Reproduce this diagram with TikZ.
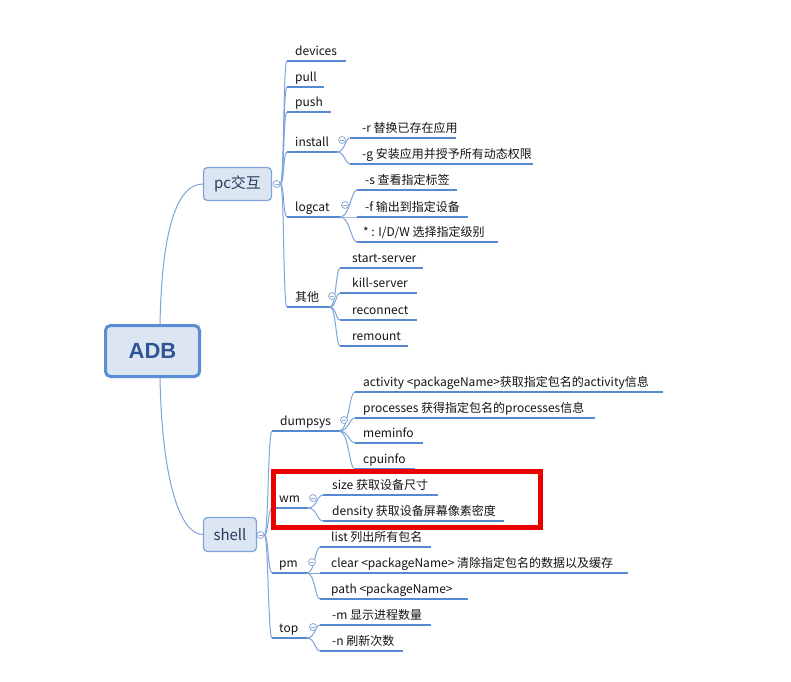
\documentclass[tikz,border=0pt]{standalone}
\usepackage{fontspec}
\setmainfont{Noto Sans CJK SC}
\newfontfamily\adbfont{Liberation Sans}
\usetikzlibrary{calc}
\definecolor{boxfill}{RGB}{220,230,242}
\definecolor{boxline}{RGB}{91,141,212}
\definecolor{ulc}{RGB}{86,137,210}
\definecolor{trunkc}{RGB}{125,165,220}
\definecolor{circc}{RGB}{140,170,210}
\definecolor{txtc}{RGB}{20,20,20}
\definecolor{toptxt}{RGB}{38,58,90}
\definecolor{adbtxt}{RGB}{47,85,151}
\definecolor{hlc}{RGB}{235,0,0}
\tikzset{
  leaftext/.style={anchor=base west, inner sep=0, text=txtc, font=\fontsize{12}{14}\selectfont},
  uline/.style={draw=ulc, line width=1.8},
  trunkline/.style={draw=trunkc, line width=1},
  toggle/.style={circle, draw=circc, fill=white, line width=0.8, minimum size=7, inner sep=0,
    path picture={\draw[circc, line width=0.8] ([xshift=-2]path picture bounding box.center) -- ([xshift=2]path picture bounding box.center);}},
  adbbox/.style={draw=boxline, line width=3, fill=boxfill, rounded corners=5, minimum width=94, minimum height=51, inner sep=0,
    text=adbtxt, font=\adbfont\bfseries\fontsize{22}{24}\selectfont},
  topbox/.style={draw=boxline!80, line width=1.2, fill=boxfill, rounded corners=4, inner sep=0,
    text=toptxt, font=\fontsize{15}{18}\selectfont},
  hlbox/.style={draw=hlc, line width=5, minimum width=267, minimum height=56, inner sep=0}
}
\newcommand\leafnode[6]{%
  \coordinate (#1s) at (#2,#4);
  \coordinate (#1e) at (#3,#4);
  \node[leaftext] (#1) at (#5,#4-6) {#6};
  \draw[uline] (#1s) -- (#1e);
}
\newcommand\brc[4]{\draw[trunkline] (#1) .. controls ($(#1)+(#3,0)$) and ($(#2)+(-#4,0)$) .. (#2);}
\begin{document}
\begin{tikzpicture}[x=1pt,y=-1pt]
\useasboundingbox (0,0) rectangle (791,681);
\fill[white] (0,0) rectangle (791,681);

% main boxes
\node[adbbox] (adb) at (152.5,351) {ADB};
\node[topbox, minimum width=68, minimum height=33] (pcx) at (237.5,184) {pc交互};
\node[topbox, minimum width=53, minimum height=34] (shell) at (230,534.5) {shell};
\coordinate (adbtop) at ([xshift=7.5]adb.north);
\coordinate (adbbot) at ([xshift=7.5]adb.south);
\draw[trunkline] (adbtop) .. controls ($(adbtop)+(2,-104)$) and ($(pcx.west)+(-23,0)$) .. (pcx.west);
\draw[trunkline] (adbbot) .. controls ($(adbbot)+(2,102)$) and ($(shell.west)+(-23,0)$) .. (shell.west);

\node[toggle] (pcc) at (276.5,184) {};
\node[toggle] (shellc) at (260.5,535) {};

% pc children
\leafnode{dev}{287}{346}{61}{295}{devices}
\leafnode{pul}{287}{324}{87}{295}{pull}
\leafnode{pus}{287}{331}{112}{295}{push}
\leafnode{inst}{287}{337}{152}{295}{install}
\leafnode{logc}{287}{340}{217}{295}{logcat}
\leafnode{oth}{287}{330}{307}{295}{其他}
\leafnode{ir}{350}{456}{138}{362}{-r 替换已存在应用}
\leafnode{ig}{350}{533}{164}{362}{-g 安装应用并授予所有动态权限}
\leafnode{ls}{357}{457}{190}{365}{-s 查看指定标签}
\leafnode{lf}{357}{468}{217}{365}{-f 输出到指定设备}
\leafnode{lw}{357}{498}{242}{363}{* : I/D/W 选择指定级别}
\leafnode{oa}{340}{423}{268}{352}{start-server}
\leafnode{ob}{340}{417}{293}{352}{kill-server}
\leafnode{oc}{340}{417}{320}{352}{reconnect}
\leafnode{od}{340}{408}{346}{352}{remount}

% shell children
\leafnode{dump}{272}{339}{431}{280}{dumpsys}
\leafnode{wmn}{272}{308}{508}{279}{wm}
\leafnode{pmn}{272}{307}{573}{279}{pm}
\leafnode{topn}{272}{307}{638}{279}{top}
\leafnode{da}{355}{663}{392}{363}{activity <packageName>获取指定包名的activity信息}
\leafnode{db}{355}{595}{418}{363}{processes 获得指定包名的processes信息}
\leafnode{dc}{355}{423}{443}{363}{meminfo}
\leafnode{dd}{355}{415}{469}{363}{cpuinfo}
\leafnode{wa}{323}{438}{495}{332}{size 获取设备尺寸}
\leafnode{wb}{323}{504}{521}{332}{density 获取设备屏幕像素密度}
\leafnode{pa}{320}{431}{547}{331}{list 列出所有包名}
\leafnode{pb}{320}{628}{573}{331}{clear <packageName> 清除指定包名的数据以及缓存}
\leafnode{pcn}{320}{468}{599}{331}{path <packageName>}
\leafnode{ta}{320}{431}{625}{332}{-m 显示进程数量}
\leafnode{tb}{320}{403}{651}{332}{-n 刷新次数}

% branches
\foreach \c in {devs,puls,puss,insts,logcs,oths} {\brc{pcc.east}{\c}{4}{4}}
\foreach \c in {irs,igs} {\brc{inste}{\c}{8}{5}}
\foreach \c in {lss,lfs,lws} {\brc{logce}{\c}{10}{6}}
\foreach \c in {oas,obs,ocs,ods} {\brc{othe}{\c}{6}{4}}
\foreach \c in {dumps,wmns,pmns,topns} {\brc{shellc.east}{\c}{4}{4}}
\foreach \c in {das,dbs,dcs,dds} {\brc{dumpe}{\c}{10}{6}}
\foreach \c in {was,wbs} {\brc{wmne}{\c}{9}{6}}
\foreach \c in {pas,pbs,pcns} {\brc{pmne}{\c}{8}{5}}
\foreach \c in {tas,tbs} {\brc{topne}{\c}{8}{5}}

% toggles
\node[toggle] (instc) at (342,140) {};
\node[toggle] (logcc) at (345,205) {};
\node[toggle] (othc) at (332,296) {};
\node[toggle] (dumpc) at (344,420) {};
\node[toggle] (wmc) at (313,498) {};
\node[toggle] (pmc) at (312,562) {};
\node[toggle] (topc) at (313,627) {};

% highlight
\node[hlbox] (hl) at (407,499.5) {};
\end{tikzpicture}
\end{document}
